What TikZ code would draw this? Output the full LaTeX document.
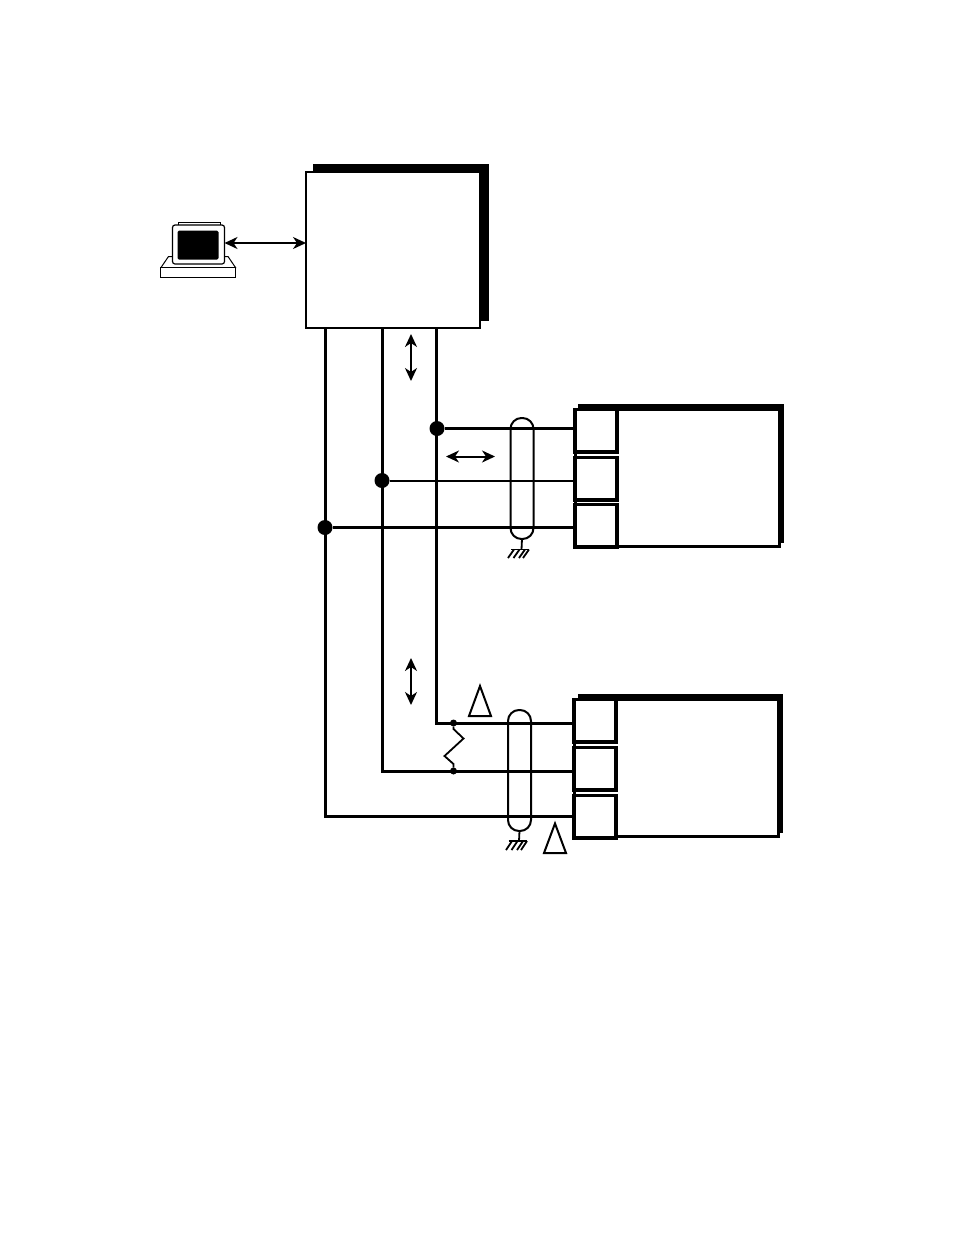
\documentclass[tikz,border=0pt]{standalone}
\usetikzlibrary{arrows.meta}
\tikzset{
  every node/.style={outer sep=0pt},
  wire/.style={line width=3pt,line cap=butt},
  thinwire/.style={line width=2pt},
  dbl/.style={line width=2pt,{Stealth[length=13pt,width=12pt,inset=4pt]}-{Stealth[length=13pt,width=12pt,inset=4pt]}},
  blackbox/.style={draw=none,fill=black},
  box/.style={draw=black,fill=white,line width=2pt},
  termbox/.style={draw=black,fill=white,line width=3.4pt},
  shield/.style={draw=black,fill=none,line width=2pt,rounded corners=11pt},
  dot/.style={circle,fill=black,inner sep=0pt,minimum size=15pt},
  smalldot/.style={circle,fill=black,inner sep=0pt,minimum size=7pt},
  delta/.style={draw=black,fill=white,line width=2pt,line join=miter},
  gnd/.style={line width=1.8pt},
}
\begin{document}
\begin{tikzpicture}[x=1pt,y=-1pt]
\useasboundingbox (0,0) rectangle (954,1235);
\fill[white] (0,0) rectangle (954,1235);
% computer
\draw[line width=1pt,fill=white] (161,267.5) -- (168.5,256.5) -- (228,256.5) -- (235.5,267.5) -- cycle;
\draw[line width=1pt,fill=white] (160.5,267.5) rectangle (235.5,277.5);
\draw[line width=1pt,fill=white] (178,222.5) rectangle (220,226);
\draw[line width=1.2pt,fill=white,rounded corners=2.5pt] (172.5,225) rectangle (224.5,264);
\node[fill=black,inner sep=0pt,minimum width=41pt,minimum height=29pt,rounded corners=1.5pt] (screen) at (198,245) {};
\coordinate (pc) at (224.5,243);
% main box
\fill[blackbox] (313,164) rectangle (489,321);
\node[box,anchor=north west,minimum width=174pt,minimum height=156pt,inner sep=0pt] (main) at (306,172) {};
\coordinate (mainL) at (306,243);
\draw[dbl] (pc) -- (mainL);
% upper device
\fill[blackbox] (578,404) rectangle (784,543);
\node[anchor=north west,draw=black,fill=white,line width=3pt,minimum width=204pt,minimum height=137pt,inner sep=0pt] (devA) at (575,409.5) {};
% lower device
\fill[blackbox] (578,694) rectangle (783,833);
\node[anchor=north west,draw=black,fill=white,line width=3pt,minimum width=204pt,minimum height=137pt,inner sep=0pt] (devB) at (574,699.5) {};
% terminals
\foreach \n/\x/\y in {a1/575/409.5,a2/575/457.5,a3/575/504.5,b1/574/699.5,b2/574/747.5,b3/574/795.5}{
  \node[termbox,anchor=north west,minimum width=42pt,minimum height=42.5pt,inner sep=0pt] (\n) at (\x,\y) {};
}
% junctions
\node[dot] (j1) at (437,428.5) {};
\node[dot] (j2) at (382,480.5) {};
\node[dot] (j3) at (325,527.5) {};
\node[smalldot] (s1) at (453.5,723) {};
\node[smalldot] (s2) at (453.5,771) {};
% bus
\coordinate (t1) at (436.5,328);
\coordinate (t2) at (382,328);
\coordinate (t3) at (325,328);
\coordinate (c1) at (436.5,723);
\coordinate (c2) at (382,771);
\coordinate (c3) at (325,816);
\draw[wire,line join=miter] (t1) -- (c1) -- (b1.west |- c1);
\draw[wire,line join=miter] (t2) -- (c2) -- (b2.west |- c2);
\draw[wire,line join=miter] (t3) -- (c3) -- (b3.west |- c3);
\draw[wire] (j1) -- (a1.west |- j1);
\draw[thinwire] (j2) -- (a2.west |- j2);
\draw[wire] (j3) -- (a3.west |- j3);
% arrows
\coordinate (u1) at (411,334); \coordinate (u2) at (411,381);
\draw[dbl] (u1) -- (u2);
\coordinate (h1) at (446,456.5); \coordinate (h2) at (495,456.5);
\draw[dbl] (h1) -- (h2);
\coordinate (v1) at (411,658); \coordinate (v2) at (411,705);
\draw[dbl] (v1) -- (v2);
% shields
\node[shield,anchor=north west,minimum width=23pt,minimum height=121pt,inner sep=0pt] (sa) at (510.5,418) {};
\node[shield,anchor=north west,minimum width=23pt,minimum height=121pt,inner sep=0pt] (sb) at (508,710) {};
% grounds
\draw[gnd] (sa.south) -- (521.5,549.5);
\draw[gnd] (511,549.5) -- (529,549.5);
\foreach \x in {514,519.5,525,529}{\draw[gnd] (\x,549.5) -- (\x-6,558);}
\draw[gnd] (sb.south) -- (519,841);
\draw[gnd] (508.5,841) -- (527,841);
\foreach \x in {512,517.5,523,527}{\draw[gnd] (\x,841) -- (\x-6,850);}
% resistor
\draw[line width=1.8pt,line join=miter] (s1) -- (453.5,729) -- (463.5,738.5) -- (444.5,756) -- (453.5,764) -- (s2);
% deltas
\draw[delta] (480,686) -- (491,716) -- (469,716) -- cycle;
\draw[delta] (555,823.5) -- (566,853) -- (544,853) -- cycle;
\end{tikzpicture}
\end{document}
